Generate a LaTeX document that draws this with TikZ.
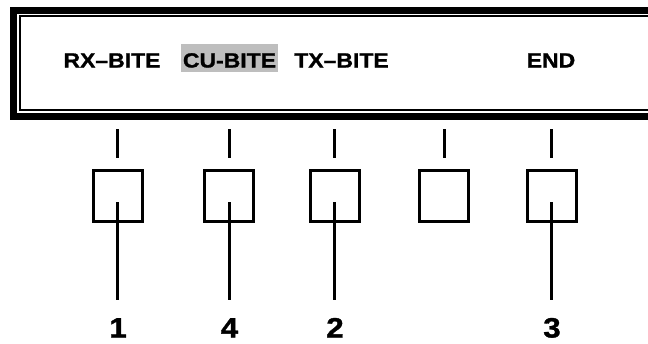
\documentclass[tikz,border=0pt]{standalone}
\usepackage{fontspec}
\newfontfamily\labfont[FakeStretch=1.12,FakeBold=1.2]{Liberation Sans Bold}
\definecolor{hl}{RGB}{190,190,190}
\tikzset{
  lab/.style={font=\labfont\fontsize{20.5pt}{24pt}\selectfont, inner sep=0pt, text height=19pt, text depth=0pt},
  num/.style={font=\labfont\fontsize{28pt}{32pt}\selectfont, inner sep=0pt, text height=20pt, text depth=0pt, anchor=base},
  key/.style={draw, line width=3pt, minimum width=49pt, minimum height=51pt, inner sep=0pt},
  tick/.style={line width=3pt},
  wire/.style={line width=3pt},
}
\begin{document}
\begin{tikzpicture}[x=1pt,y=-1pt]
\useasboundingbox (0,0) rectangle (648,343);
\clip (0,0) rectangle (648,343);
% display frame
\draw[line width=7pt] (13.5,10.5) rectangle (700,116.5);
\draw[line width=2pt] (20,16) rectangle (700,109.5);
% labels
\node[lab] (l1) at (112,58) {RX–BITE};
\node[lab, fill=hl, minimum width=97pt, minimum height=28pt] (l2) at (229.5,58) {CU-BITE};
\node[lab] (l3) at (341.5,58) {TX–BITE};
\node[lab] (l5) at (551,58) {END};
% keys
\foreach \i/\x in {1/117.5,2/229,3/334.5,4/444,5/551.5}{
  \node[key] (b\i) at (\x,196) {};
  \coordinate (ta\i) at (\x,129);
  \coordinate (tb\i) at (\x,158);
  \draw[tick] (ta\i) -- (tb\i);
}
% numbers
\node[num] (n1) at (118,337.5) {1};
\node[num] (n2) at (229.5,337.5) {4};
\node[num] (n3) at (335,337.5) {2};
\node[num] (n5) at (552,337.5) {3};
\foreach \i in {1,2,3,5}{
  \coordinate (s\i) at ([yshift=-6pt]b\i.center);
  \coordinate (e\i) at ([yshift=17.5pt]n\i.north);
  \draw[wire] (s\i) -- (s\i |- e\i);
}
\end{tikzpicture}
\end{document}
